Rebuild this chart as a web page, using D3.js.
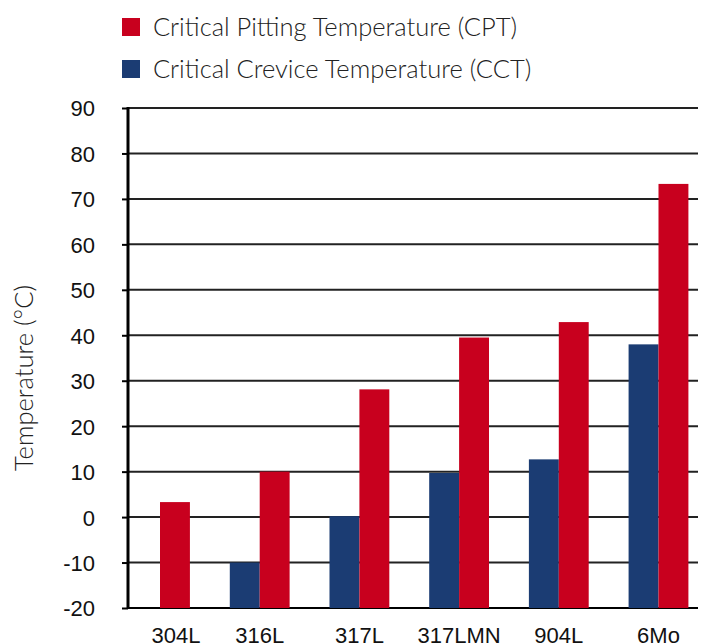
<!DOCTYPE html>
<html>
<head>
<meta charset="utf-8">
<script src="https://cdn.jsdelivr.net/npm/d3@7"></script>
<style>
  html, body { margin: 0; padding: 0; background: #fff; }
  svg { display: block; }
</style>
</head>
<body>
<svg id="chart" width="704" height="643"></svg>
<script>
const categories = ["304L", "316L", "317L", "317LMN", "904L", "6Mo"];
const cctValues = [null, -10, 0.2, 9.7, 12.7, 38];
const cptValues = [3.3, 10, 28.1, 39.5, 42.9, 73.3];
const seriesNames = ["Critical Pitting Temperature (CPT)", "Critical Crevice Temperature (CCT)"];
const yTicks = [-20, -10, 0, 10, 20, 30, 40, 50, 60, 70, 80, 90];
const yTitle = "Temperature (°C)";

const colors = { cpt: "#c8001e", cct: "#1b3c73" };

const svg = d3.select("#chart");
const axisX = 128, gridRight = 698;

const y = d3.scaleLinear().domain([-20, 90]).range([608, 108]);
const x = d3.scaleBand().domain(categories).range([128, 690.5])
  .paddingInner(0.4).paddingOuter(0.021);
const sub = d3.scaleBand().domain(["cct", "cpt"]).range([0, x.bandwidth()]).padding(0);

// gridlines
svg.append("g").selectAll("line").data(yTicks).join("line")
  .attr("x1", axisX).attr("x2", gridRight)
  .attr("y1", d => y(d)).attr("y2", d => y(d))
  .attr("stroke", d => d === -20 ? "#000" : "#222")
  .attr("stroke-width", 2);

// bars
const groups = svg.append("g").selectAll("g").data(categories).join("g")
  .attr("transform", d => `translate(${x(d)},0)`);
groups.each(function(c, i) {
  const g = d3.select(this);
  const vals = [["cct", cctValues[i]], ["cpt", cptValues[i]]].filter(d => d[1] !== null);
  g.selectAll("rect").data(vals).join("rect")
    .attr("x", d => sub(d[0]))
    .attr("width", sub.bandwidth())
    .attr("y", d => y(d[1]))
    .attr("height", d => y(-20) - y(d[1]))
    .attr("fill", d => colors[d[0]]);
});

// y axis
const yAxis = d3.axisLeft(y).tickValues(yTicks).tickSize(6).tickPadding(27).tickFormat(d => String(d));
const ya = svg.append("g").attr("transform", `translate(${axisX},0)`).call(yAxis);
ya.select(".domain").attr("stroke", "#000").attr("stroke-width", 3).attr("d", `M0,${y(90)-1}V${y(-20)+1}`);
ya.selectAll(".tick line").attr("stroke", "#000").attr("stroke-width", 2);
ya.selectAll(".tick text").attr("font-family", "Liberation Sans, Arial, sans-serif")
  .attr("font-size", 22).attr("fill", "#111").attr("dy", "0.36em");

// x labels
svg.append("g").selectAll("text").data(categories).join("text")
  .attr("x", d => x(d) + x.bandwidth() / 2 + (d === "304L" ? 16 : 0))
  .attr("y", 642.5)
  .attr("text-anchor", "middle")
  .attr("font-family", "Liberation Sans, Arial, sans-serif")
  .attr("font-size", 22).attr("fill", "#111")
  .text(d => d);

// y title
svg.append("text")
  .attr("transform", `translate(33,378) rotate(-90)`)
  .attr("text-anchor", "middle")
  .attr("font-family", "Lato, sans-serif").attr("font-weight", 300)
  .attr("font-size", 25.5).attr("fill", "#222")
  .text(yTitle);

// legend
const legend = svg.append("g");
const legItems = [[seriesNames[0], colors.cpt, 27], [seriesNames[1], colors.cct, 69]];
legItems.forEach(([name, col, cy]) => {
  legend.append("rect").attr("x", 122).attr("y", cy - 9).attr("width", 18).attr("height", 18).attr("fill", col);
  legend.append("text").attr("x", 153).attr("y", cy).attr("dy", "0.36em")
    .attr("font-family", "Lato, sans-serif").attr("font-weight", 300)
    .attr("font-size", 25.5).attr("fill", "#222").text(name);
});
</script>
</body>
</html>
